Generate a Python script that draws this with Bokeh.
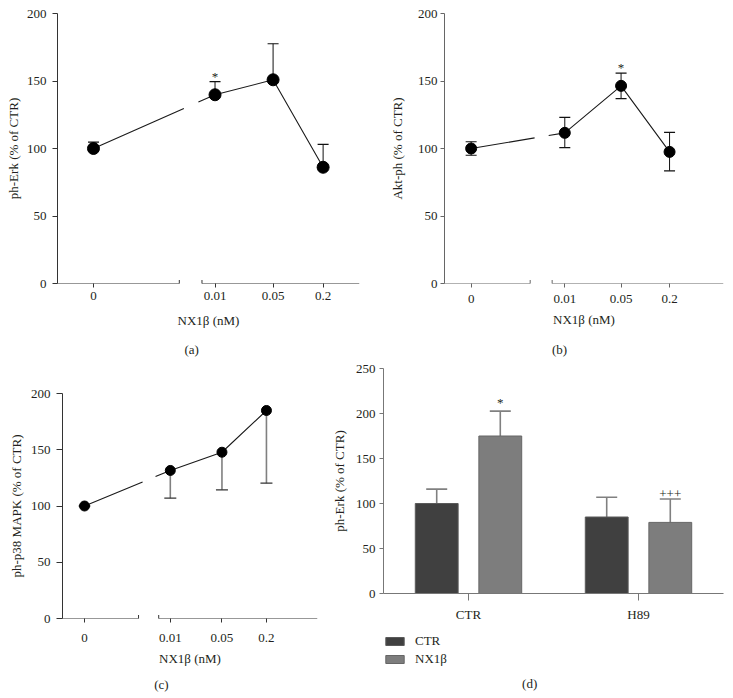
import numpy as np
from bokeh.plotting import figure
from bokeh.models import (ColumnDataSource, Range1d, FactorRange, FixedTicker, CustomJSTickFormatter,
                          Whisker, TeeHead, Label, Legend, LegendItem)
from bokeh.layouts import column, row
from bokeh.transform import dodge
from bokeh.core.properties import value
from bokeh.embed import file_html
from bokeh.resources import INLINE

# ---------------- data ----------------
DOSE_LABELS = ["0", "0.01", "0.05", "0.2"]
DOSES = [0.0, 0.01, 0.05, 0.2]

erk_mean = [100.0, 139.8, 150.9, 86.1]
erk_err_up = [4.7, 9.8, 26.7, 16.9]
erk_err_dn = [0.0, 0.0, 0.0, 0.0]
erk_sig = ["", "*", "", ""]

akt_mean = [100.0, 111.6, 146.4, 97.5]
akt_err_up = [5.0, 11.5, 9.5, 14.5]
akt_err_dn = [5.0, 11.0, 9.5, 14.0]
akt_sig = ["", "", "*", ""]

p38_mean = [100.0, 131.6, 147.8, 184.9]
p38_err_up = [0.0, 0.0, 0.0, 0.0]
p38_err_dn = [0.0, 24.6, 33.4, 64.6]
p38_sig = ["", "", "", ""]

GROUPS = ["CTR", "H89"]
ctr_mean = [100.0, 85.0]
ctr_err = [16.0, 22.0]
nx_mean = [175.0, 79.0]
nx_err = [27.6, 26.0]
nx_sig = ["*", "+++"]
SERIES = ["CTR", "NX1\u03b2"]
TAGS = ["(a)", "(b)", "(c)", "(d)"]

FONT = "Liberation Serif"
FS = "13px"
TXT = "#231f20"


def style_axes(p, axis_color, ytick_out=5, ylabel_standoff=6):
    for ax in (p.xaxis[0], p.yaxis[0]):
        ax.major_label_text_font = FONT
        ax.major_label_text_font_size = FS
        ax.major_label_text_color = TXT
        ax.axis_label_text_font = FONT
        ax.axis_label_text_font_size = FS
        ax.axis_label_text_font_style = "normal"
        ax.axis_label_text_color = TXT
        ax.minor_tick_line_color = None
        ax.major_tick_in = 0
        ax.major_tick_line_color = axis_color
        ax.axis_line_color = axis_color
    p.yaxis.major_tick_out = ytick_out
    p.yaxis.major_label_standoff = ylabel_standoff
    p.xgrid.visible = False
    p.ygrid.visible = False
    p.outline_line_color = None


def blank_fig(width, height, **borders):
    p = figure(width=width, height=height, output_backend="svg", toolbar_location=None,
               x_range=Range1d(0, 1), y_range=Range1d(0, 1),
               min_border_left=borders.get("left", 0), min_border_right=borders.get("right", 0),
               min_border_top=borders.get("top", 0), min_border_bottom=borders.get("bottom", 0))
    p.axis.visible = False
    p.xgrid.visible = False
    p.ygrid.visible = False
    p.outline_line_color = None
    return p


def tag_strip(text, width, height, xfrac, yfrac=0.5, left=0, right=0):
    p = blank_fig(width, height, left=left, right=right)
    p.add_layout(Label(x=xfrac, y=yfrac, text=text, text_align="center", text_baseline="middle",
                       text_font=FONT, text_font_size=FS, text_color=TXT))
    return p


def dose_panel(mean, err_up, err_dn, sig, ylabel, width, height, borders, xr, zero_pos,
               axis_color, err_color, cap_color, marker_size, cap_size, stem_width=1.0,
               ytick_out=5, ylabel_standoff=6, yaxis_label_standoff=3,
               xlabel_standoff=3, ax_label_standoff=8):
    ml, mr, mt, mb = borders
    p = figure(width=width, height=height, output_backend="svg", toolbar_location=None,
               x_range=Range1d(*xr), y_range=Range1d(0, 200),
               min_border_left=ml, min_border_right=mr, min_border_top=mt, min_border_bottom=mb)
    style_axes(p, axis_color, ytick_out, ylabel_standoff)
    xpos = [zero_pos if d == 0 else float(np.log10(d)) for d in DOSES]
    # axis break (layout only)
    brk0, brk1 = -2.43, -2.157
    gap0, gap1 = -2.375, -2.20
    px_per_unit = (width - ml - mr) / (xr[1] - xr[0])

    src = ColumnDataSource(dict(
        x=xpos, y=mean,
        hi=[m + e for m, e in zip(mean, err_up)],
        lo=[m - e for m, e in zip(mean, err_dn)],
        sig=sig,
    ))
    # connecting line, broken at the axis break
    y_g0 = float(np.interp(gap0, xpos[:2], mean[:2]))
    y_g1 = float(np.interp(gap1, xpos[:2], mean[:2]))
    lx = [xpos[0], gap0, np.nan, gap1] + xpos[1:]
    ly = [mean[0], y_g0, np.nan, y_g1] + mean[1:]
    p.line(lx, ly, line_color="#1a1a1a", line_width=1.1)

    if any(err_up):
        p.add_layout(Whisker(source=src, base="x", upper="hi", lower="y", line_color=err_color,
                             line_width=stem_width,
                             upper_head=TeeHead(size=cap_size, line_color=cap_color, line_width=1.2),
                             lower_head=None))
    if any(err_dn):
        p.add_layout(Whisker(source=src, base="x", upper="y", lower="lo", line_color=err_color,
                             line_width=stem_width,
                             lower_head=TeeHead(size=cap_size, line_color=cap_color, line_width=1.2),
                             upper_head=None))

    p.scatter("x", "y", source=src, size=marker_size, fill_color="black", line_color="black")
    p.text("x", "hi", text="sig", source=src, text_align="center", text_baseline="bottom",
           y_offset=2, text_font=value(FONT), text_font_size=FS, text_color=TXT)

    # x axis: ticks by bokeh, line drawn in two pieces with break marks
    p.xaxis.axis_line_color = None
    p.xaxis.ticker = FixedTicker(ticks=xpos)
    p.xaxis.formatter = CustomJSTickFormatter(args=dict(labels=DOSE_LABELS), code="return labels[index];")
    p.xaxis.major_tick_out = 4
    p.xaxis.major_label_standoff = xlabel_standoff
    p.xaxis.axis_label = "NX1\u03b2 (nM)"
    p.xaxis.axis_label_standoff = ax_label_standoff
    p.yaxis.ticker = FixedTicker(ticks=[0, 50, 100, 150, 200])
    p.yaxis.axis_label = ylabel
    p.yaxis.axis_label_standoff = yaxis_label_standoff

    left = ColumnDataSource(dict(b=[0], l=[xr[0] - 4 / px_per_unit], u=[brk0]))
    right = ColumnDataSource(dict(b=[0], l=[brk1], u=[xr[1]]))
    p.add_layout(Whisker(source=left, base="b", lower="l", upper="u", dimension="width",
                         line_color=axis_color, line_width=1, level="overlay",
                         upper_head=TeeHead(size=7, line_color=axis_color, line_width=1),
                         lower_head=None))
    p.add_layout(Whisker(source=right, base="b", lower="l", upper="u", dimension="width",
                         line_color=axis_color, line_width=1, level="overlay",
                         lower_head=TeeHead(size=7, line_color=axis_color, line_width=1),
                         upper_head=None))
    return p


pa = dose_panel(erk_mean, erk_err_up, erk_err_dn, erk_sig, "ph-Erk (% of CTR)",
                362, 336, (57, 3, 13, 53), (-3.896, -0.261), -3.463,
                "#333333", "#111111", "#111111", 12, 11,
                ytick_out=5, ylabel_standoff=6, yaxis_label_standoff=3,
                xlabel_standoff=4, ax_label_standoff=10)
pb = dose_panel(akt_mean, akt_err_up, akt_err_dn, akt_sig, "Akt-ph (% of CTR)",
                363, 336, (82, 2, 13, 53), (-3.494, -0.029), -3.163,
                "#666666", "#111111", "#111111", 11, 11,
                ytick_out=4, ylabel_standoff=3, yaxis_label_standoff=10,
                xlabel_standoff=7, ax_label_standoff=6)
pc = dose_panel(p38_mean, p38_err_up, p38_err_dn, p38_sig, "ph-p38 MAPK (% of CTR)",
                325, 309, (62, 8, 31, 53), (-3.459, -0.008), -3.161,
                "#333333", "#808080", "#333333", 10, 12, stem_width=1.6,
                ytick_out=6, ylabel_standoff=6, yaxis_label_standoff=4,
                xlabel_standoff=11, ax_label_standoff=6)

ta = tag_strip(TAGS[0], 362, 26, 0.528)
tb = tag_strip(TAGS[1], 363, 26, 0.543)
tc = tag_strip(TAGS[2], 325, 25, 0.388, left=62, right=8)

# ---------------- panel d ----------------
pd_ = figure(width=400, height=263, output_backend="svg", toolbar_location=None,
             x_range=FactorRange(factors=GROUPS), y_range=Range1d(0, 250),
             min_border_left=58, min_border_right=2, min_border_top=6, min_border_bottom=32)
style_axes(pd_, "#777777", ytick_out=4, ylabel_standoff=4)
dsrc = ColumnDataSource(dict(
    g=GROUPS, ctr=ctr_mean, nx=nx_mean,
    ctr_hi=[m + e for m, e in zip(ctr_mean, ctr_err)],
    nx_hi=[m + e for m, e in zip(nx_mean, nx_err)],
    sig=nx_sig,
))
off = 0.187
bw = 0.252
for fld, base, o in (("ctr_hi", "ctr", -off), ("nx_hi", "nx", off)):
    pd_.add_layout(Whisker(source=dsrc, base=dodge("g", o, range=pd_.x_range), upper=fld, lower=base,
                           line_color="#808080", line_width=1.6,
                           upper_head=TeeHead(size=21, line_color="#808080", line_width=1.6),
                           lower_head=None))
BAR_COLORS = ["#404040", "#7d7d7d"]
BAR_LINES = ["#5a5a5a", "#666666"]
pd_.vbar(x=dodge("g", -off, range=pd_.x_range), top="ctr", width=bw, source=dsrc,
         fill_color=BAR_COLORS[0], line_color=BAR_LINES[0], line_width=1)
pd_.vbar(x=dodge("g", off, range=pd_.x_range), top="nx", width=bw, source=dsrc,
         fill_color=BAR_COLORS[1], line_color=BAR_LINES[1], line_width=1)
pd_.text(x=dodge("g", off, range=pd_.x_range), y="nx_hi", text="sig", source=dsrc,
         text_align="center", text_baseline="bottom", y_offset=-1,
         text_font=value(FONT), text_font_size=FS, text_color=TXT)
pd_.yaxis.ticker = FixedTicker(ticks=[0, 50, 100, 150, 200, 250])
pd_.yaxis.axis_label = "ph-Erk (% of CTR)"
pd_.yaxis.axis_label_standoff = 6
pd_.xaxis.major_tick_out = 7
pd_.xaxis.major_label_standoff = 6
pd_.x_range.range_padding = 0

# legend + tag of panel d (below the bar chart)
legfig = blank_fig(400, 71, left=58, right=2, top=8, bottom=0)
swatch = ColumnDataSource(dict(x=np.array([np.nan]), top=np.array([np.nan])))
lr1 = legfig.vbar(x="x", top="top", width=0.1, source=swatch,
                  fill_color=BAR_COLORS[0], line_color=BAR_LINES[0])
lr2 = legfig.vbar(x="x", top="top", width=0.1, source=swatch,
                  fill_color=BAR_COLORS[1], line_color=BAR_LINES[1])
legend = Legend(items=[LegendItem(label=SERIES[0], renderers=[lr1]),
                       LegendItem(label=SERIES[1], renderers=[lr2])],
                location="top_left", orientation="vertical", margin=0, padding=0,
                glyph_width=23, glyph_height=10, label_standoff=9, spacing=2,
                label_text_font=FONT, label_text_font_size=FS, label_text_color=TXT,
                label_height=10, border_line_color=None, background_fill_alpha=0)
legfig.add_layout(legend)
legfig.add_layout(Label(x=0.43, y=0.206, text=TAGS[3], text_align="center", text_baseline="middle",
                        text_font=FONT, text_font_size=FS, text_color=TXT))

layout = column(row(pa, pb), row(ta, tb), row(column(pc, tc), column(pd_, legfig)))
open("out.html", "w").write(file_html(layout, INLINE))
